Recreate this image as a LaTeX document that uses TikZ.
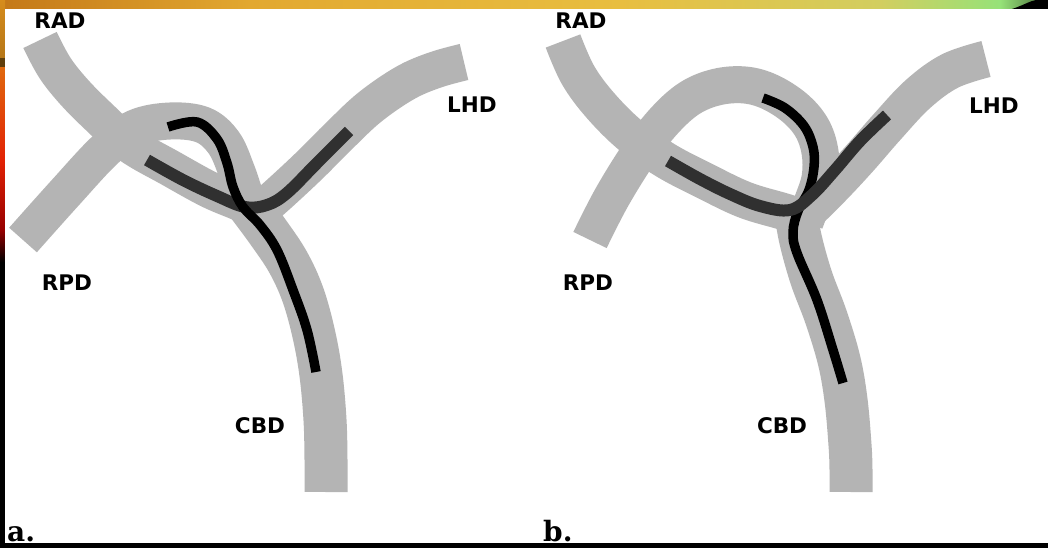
\documentclass[tikz,border=0pt]{standalone}
\usepackage{fontspec}
\setsansfont{DejaVu Sans}
\newfontfamily\tagserif{DejaVu Serif}
\definecolor{ductgray}{RGB}{180,180,180}
\definecolor{cathgray}{RGB}{48,48,48}
\definecolor{bandA}{RGB}{196,120,24}
\definecolor{bandB}{RGB}{226,168,48}
\definecolor{bandC}{RGB}{232,190,64}
\definecolor{bandD}{RGB}{210,206,96}
\definecolor{bandE}{RGB}{150,226,120}
\definecolor{sideA}{RGB}{214,140,28}
\definecolor{sideB}{RGB}{224,104,14}
\definecolor{sideC}{RGB}{226,34,4}
\definecolor{sideD}{RGB}{150,0,0}
\begin{document}
\begin{tikzpicture}[x=1pt,y=-1pt,
  duct/.style={line width=37pt,draw=ductgray,line cap=butt,line join=round},
  cbdduct/.style={line width=43pt,draw=ductgray,line cap=butt,line join=round},
  wire/.style={line width=9.5pt,draw=black,line cap=butt},
  cath/.style={line width=12pt,draw=cathgray,line cap=butt},
  lbl/.style={font=\sffamily\bfseries\fontsize{21.5}{24}\selectfont,inner sep=0pt},
  tag/.style={font=\tagserif\bfseries\fontsize{28}{30}\selectfont,inner sep=0pt,anchor=base west}]

% frame
\fill[black] (0,0) rectangle (1048,548);
\shade[left color=bandA,right color=bandB] (0,0) rectangle (250,9);
\shade[left color=bandB,right color=bandC] (250,0) rectangle (620,9);
\shade[left color=bandC,right color=bandD] (620,0) rectangle (880,9);
\shade[left color=bandD,right color=bandE] (880,0) rectangle (1000,9);
\shade[left color=bandE,right color=bandE!60!black] (1000,0) rectangle (1036,9);
\fill[black] (1012,9) .. controls (1024,5) and (1030,1) .. (1036,0) -- (1048,0) -- (1048,9) -- cycle;
\shade[top color=sideA,bottom color=sideA!85!black] (0,0) rectangle (5,58);
\fill[sideA!45!black] (0,58) rectangle (5,68);
\shade[top color=sideB,bottom color=sideC] (0,68) rectangle (5,160);
\shade[top color=sideC,bottom color=sideD] (0,160) rectangle (5,230);
\shade[top color=sideD,bottom color=black] (0,230) rectangle (5,262);
\fill[white] (5,9) rectangle (1048,543);

% panel a: ducts
\draw[duct] plot[smooth,tension=0.6] coordinates {(40,40) (55,68) (75,93) (100,118) (130,145) (170,168) (210,190) (245,205) (262,216)};
\draw[duct] plot[smooth,tension=0.6] coordinates {(23,240) (65,193) (105,150) (135,128) (170,121) (203,125) (224,143) (237,172) (246,198) (256,218)};
\draw[duct] plot[smooth,tension=0.6] coordinates {(255,215) (280,193) (310,165) (340,135) (370,107) (405,83) (435,70) (464,62)};
\draw[cbdduct] plot[smooth,tension=0.6] coordinates {(248,205) (268,232) (288,262) (303,295) (314,335) (321,375) (325,420) (326,460) (326,492)};
% panel a: catheter and wire
\draw[cath] plot[smooth,tension=0.6] coordinates {(147,160) (183,180) (217,196) (245,207) (267,205) (287,193) (317,163) (349,131)};
\draw[wire] plot[smooth,tension=0.6] coordinates {(168,127) (197,122) (217,139) (227,163) (233,187) (243,207) (260,225) (277,250) (293,290) (307,330) (316,372)};

% panel b: ducts
\draw[duct] plot[smooth,tension=0.6] coordinates {(563,41) (578,75) (600,105) (630,135) (665,160) (705,181) (745,200) (785,212) (808,220)};
\draw[duct] plot[smooth,tension=0.6] coordinates {(590,240) (612,197) (640,152) (665,120) (690,98) (717,87) (745,85) (770,92) (795,108) (812,128) (820,152) (820,178) (812,203) (805,222)};
\draw[duct] plot[smooth,tension=0.6] coordinates {(810,210) (835,185) (860,158) (887,127) (918,94) (950,71) (986,59)};
\draw[cbdduct] plot[smooth,tension=0.6] coordinates {(795,205) (800,237) (811,277) (826,317) (839,360) (846,400) (850,445) (851,470) (851,492)};
% panel b: wire and catheter
\draw[wire] plot[smooth,tension=0.6] coordinates {(763,98) (785,108) (804,126) (813,147) (814,167) (809,190) (798,211) (793,232) (797,253) (817,300) (833,350) (843,383)};
\draw[cath] plot[smooth,tension=0.6] coordinates {(668,161) (700,179) (730,194) (760,206) (790,210) (812,195) (835,170) (860,141) (887,115)};

% labels
\node[lbl] (radA) at (60,21) {RAD};
\node[lbl] (lhdA) at (472,105) {LHD};
\node[lbl] (rpdA) at (67,283) {RPD};
\node[lbl] (cbdA) at (260,426) {CBD};
\node[lbl] (radB) at (581,21) {RAD};
\node[lbl] (lhdB) at (994,106) {LHD};
\node[lbl] (rpdB) at (588,283) {RPD};
\node[lbl] (cbdB) at (782,426) {CBD};
\node[tag] (tagA) at (7,541) {a.};
\node[tag] (tagB) at (543,541) {b.};

% bottom edge
\fill[black] (0,543) rectangle (1048,548);
\end{tikzpicture}
\end{document}
